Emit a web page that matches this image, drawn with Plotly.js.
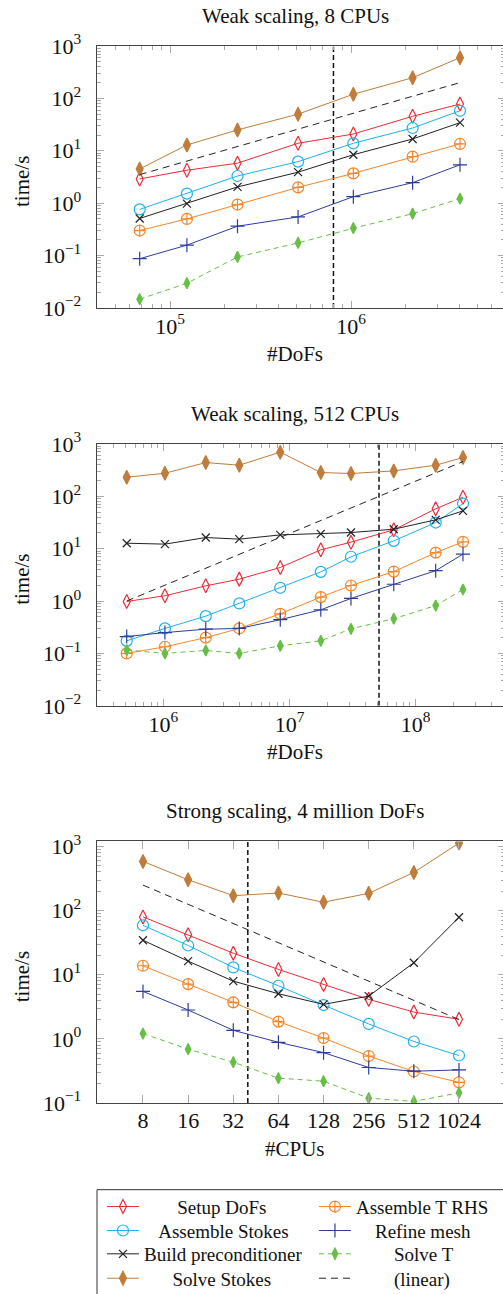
<!DOCTYPE html>
<html>
<head>
<meta charset="utf-8">
<script src="https://cdn.plot.ly/plotly-3.0.1.min.js"></script>
<style>
  html, body { margin: 0; padding: 0; overflow: hidden; background: #fff; }
  #chart { width: 505px; height: 1294px; }
</style>
</head>
<body>
<div id="chart"></div>
<script>
// ---------------- DATA ----------------
const seriesNames = ["Setup DoFs", "Assemble Stokes", "Build preconditioner", "Solve Stokes",
                     "Assemble T RHS", "Refine mesh", "Solve T"];

// Weak scaling, 8 CPUs
const weak8Dofs = [6.8e4, 1.24e5, 2.36e5, 5.1e5, 1.03e6, 2.19e6, 4.0e6];
const weak8SetupDofs = [2.9, 4.25, 5.8, 13.9, 20.9, 45.5, 78];
const weak8AssembleStokes = [0.76, 1.52, 3.3, 6.2, 13.9, 27.2, 58];
const weak8BuildPrecond = [0.51, 0.98, 2.04, 3.9, 8.4, 16.8, 34.4];
const weak8SolveStokes = [4.5, 12.9, 25, 50, 120, 248, 598];
const weak8AssembleTRhs = [0.30, 0.50, 0.94, 2.0, 3.7, 7.7, 13.5];
const weak8RefineMesh = [0.087, 0.158, 0.363, 0.546, 1.33, 2.46, 5.4];
const weak8SolveT = [0.0147, 0.0296, 0.094, 0.174, 0.332, 0.63, 1.22];
const weak8LinearX = [6.8e4, 4.0e6];
const weak8LinearY = [3.5, 200];
const weak8Marker = [8e5];

// Weak scaling, 512 CPUs
const weak512Dofs = [5.13e5, 1.03e6, 2.17e6, 4.0e6, 8.45e6, 1.77e7, 3.07e7, 6.7e7, 1.44e8, 2.37e8];
const weak512SetupDofs = [0.98, 1.26, 1.95, 2.62, 4.37, 9.5, 13.3, 22.9, 57.5, 96];
const weak512AssembleStokes = [0.174, 0.30, 0.515, 0.90, 1.79, 3.6, 7.0, 14.1, 31.5, 72.6];
const weak512BuildPrecond = [12.7, 12.2, 16.3, 15.2, 18.3, 19.1, 20.3, 23.5, 35.5, 52.6];
const weak512SolveStokes = [231, 275, 440, 392, 695, 284, 272, 305, 392, 548];
const weak512AssembleTRhs = [0.10, 0.134, 0.20, 0.30, 0.57, 1.19, 1.98, 3.65, 8.4, 13.5];
const weak512RefineMesh = [0.21, 0.25, 0.29, 0.30, 0.44, 0.68, 1.12, 2.09, 3.8, 7.85];
const weak512SolveT = [0.116, 0.10, 0.114, 0.10, 0.14, 0.174, 0.295, 0.46, 0.82, 1.66];
const weak512LinearX = [5.13e5, 2.37e8];
const weak512LinearY = [1.0, 460];
const weak512Marker = [5.12e7];

// Strong scaling, 4 million DoFs
const strongCpus = [8, 16, 32, 64, 128, 256, 512, 1024];
const strongSetupDofs = [79.8, 41.9, 21.7, 12.1, 7.06, 4.13, 2.62, 2.02];
const strongAssembleStokes = [59, 28.6, 13.0, 6.74, 3.37, 1.71, 0.91, 0.55];
const strongBuildPrecond = [34.5, 16.3, 7.94, 5.06, 3.45, 4.64, 15.4, 78.7];
const strongSolveStokes = [585, 303, 171, 188, 135, 186, 394, 1130];
const strongAssembleTRhs = [13.8, 7.14, 3.71, 1.86, 1.03, 0.54, 0.31, 0.21];
const strongRefineMesh = [5.5, 2.82, 1.36, 0.885, 0.61, 0.358, 0.313, 0.328];
const strongSolveT = [1.21, 0.69, 0.433, 0.244, 0.219, 0.119, 0.106, 0.144];
const strongLinearX = [8, 1024];
const strongLinearY = [250, 2.0];
const strongMarker = [40];

// Tick labels
const yTickVals = [0.01, 0.1, 1, 10, 100, 1000];
const yTickText = ["10<sup>\u22122</sup>", "10<sup>\u22121</sup>", "10<sup>0</sup>", "10<sup>1</sup>", "10<sup>2</sup>", "10<sup>3</sup>"];
const weak8XTickVals = [1e5, 1e6];
const weak8XTickText = ["10<sup>5</sup>", "10<sup>6</sup>"];
const weak512XTickVals = [1e6, 1e7, 1e8];
const weak512XTickText = ["10<sup>6</sup>", "10<sup>7</sup>", "10<sup>8</sup>"];
const strongXTickText = ["8", "16", "32", "64", "128", "256", "512", "1024"];

const titles = ["Weak scaling, 8 CPUs", "Weak scaling, 512 CPUs", "Strong scaling, 4 million DoFs"];
const xTitles = ["#DoFs", "#DoFs", "#CPUs"];
const yTitle = "time/s";
const linearName = "(linear)";

// ---------------- STYLE ----------------
const FONT = "Liberation Serif, Times New Roman, serif";
const styles = [
  {color: "#ee2b36", symbol: "diamond-tall-open", size: 10, dash: "solid"},
  {color: "#1db1ee", symbol: "circle-open", size: 11, dash: "solid"},
  {color: "#222222", symbol: "x-thin-open", size: 8, dash: "solid"},
  {color: "#c07c3a", symbol: "diamond-tall", size: 10, dash: "solid"},
  {color: "#f5862a", symbol: "circle-cross-open", size: 11, dash: "solid"},
  {color: "#2e3d9c", symbol: "cross-thin-open", size: 10, dash: "solid"},
  {color: "#66bf45", symbol: "diamond-tall", size: 8, dash: "5px,4px"}
];
const legendPad = [7, 3, 0, 6, 0, 4, 8];
const linearPad = 8;
const nb = n => "\u00a0".repeat(n);

const panels = [
  {x: weak8Dofs, ys: [weak8SetupDofs, weak8AssembleStokes, weak8BuildPrecond, weak8SolveStokes, weak8AssembleTRhs, weak8RefineMesh, weak8SolveT],
   lx: weak8LinearX, ly: weak8LinearY, mk: weak8Marker},
  {x: weak512Dofs, ys: [weak512SetupDofs, weak512AssembleStokes, weak512BuildPrecond, weak512SolveStokes, weak512AssembleTRhs, weak512RefineMesh, weak512SolveT],
   lx: weak512LinearX, ly: weak512LinearY, mk: weak512Marker},
  {x: strongCpus, ys: [strongSetupDofs, strongAssembleStokes, strongBuildPrecond, strongSolveStokes, strongAssembleTRhs, strongRefineMesh, strongSolveT],
   lx: strongLinearX, ly: strongLinearY, mk: strongMarker}
];

const yRanges = [[-2, 3], [-2, 3], [-1, 3.078]];
const xRanges = [[4.5967, 6.8508], [5.4746, 8.7076], [0.5964, 3.3171]];
const domains = [[0.7522, 1], [0.37577, 0.62357], [0, 0.24742]];

// legend rows: [left column, right column]; 7 = (linear)
const legendRows = [[0, 4], [1, 5], [2, 6], [3, 7]];
const legendIds = ["legend", "legend2", "legend3", "legend4"];
const rowCentersPx = [1206, 1230, 1253.3, 1277.7];

const PLOT_BOTTOM = 1103.3, PLOT_H = 1057.3;

const traces = [];
panels.forEach((p, pi) => {
  const xa = pi === 0 ? "x" : "x" + (pi + 1);
  const ya = pi === 0 ? "y" : "y" + (pi + 1);
  // vertical reference line (1e5 DoFs per CPU)
  traces.push({
    x: [p.mk[0], p.mk[0]],
    y: [Math.pow(10, yRanges[pi][0]), Math.pow(10, yRanges[pi][1])],
    xaxis: xa, yaxis: ya, mode: "lines", showlegend: false, hoverinfo: "skip",
    line: {color: "#111", width: 1.5, dash: "5px,3px"}
  });
  legendRows.forEach((row, ri) => {
    row.forEach(si => {
      if (si === 7) {
        traces.push({
          x: p.lx, y: p.ly, xaxis: xa, yaxis: ya, mode: "lines",
          name: nb(linearPad) + linearName, showlegend: pi === 0, legend: legendIds[ri],
          line: {color: "#222", width: 1, dash: "7px,5px"}
        });
      } else {
        const s = styles[si];
        traces.push({
          x: p.x, y: p.ys[si], xaxis: xa, yaxis: ya, mode: "lines+markers",
          name: nb(legendPad[si]) + seriesNames[si], showlegend: pi === 0, legend: legendIds[ri],
          line: {color: s.color, width: 1, dash: s.dash},
          marker: {symbol: s.symbol, size: s.size, color: s.color, line: {color: s.color, width: 1.2}}
        });
      }
    });
  });
});

const axisCommon = {
  type: "log", showline: true, linecolor: "#444", linewidth: 1.3, mirror: "allticks",
  ticks: "inside", ticklen: 7, tickwidth: 1, tickcolor: "#aaa", showgrid: false, zeroline: false,
  tickfont: {family: FONT, size: 22, color: "#111"}, tickmode: "array"
};
const minorLog = {ticks: "inside", ticklen: 4, tickwidth: 1, tickcolor: "#aaa", dtick: "D1", showgrid: false};

const LEG_BW = 5;
const legendBase = {
  orientation: "h", x: -0.0001, xanchor: "left", yanchor: "top",
  entrywidth: 165, entrywidthmode: "pixels", itemwidth: 32, traceorder: "normal",
  font: {family: FONT, size: 19, color: "#111"},
  bordercolor: "rgba(0,0,0,0)", borderwidth: LEG_BW, bgcolor: "rgba(0,0,0,0)"
};

const layout = {
  width: 505, height: 1294,
  margin: {l: 97, r: 0, t: 46, b: 190.7, autoexpand: false},
  paper_bgcolor: "#fff", plot_bgcolor: "#fff",
  font: {family: FONT, size: 20, color: "#111"},
  showlegend: true,
  annotations: [],
  shapes: [{
    type: "rect", xref: "paper", yref: "paper",
    x0: 0, x1: 1.1, y0: -(1190 - PLOT_BOTTOM) / PLOT_H, y1: -0.3,
    line: {color: "#333", width: 1}, fillcolor: "rgba(0,0,0,0)", layer: "below"
  }],
  hovermode: false
};
legendIds.forEach((id, ri) => {
  layout[id] = Object.assign({}, legendBase, {y: -(rowCentersPx[ri] - 23 - PLOT_BOTTOM) / PLOT_H});
});

const xTickVals = [weak8XTickVals, weak512XTickVals, strongCpus];
const xTickText = [weak8XTickText, weak512XTickText, strongXTickText];

for (let i = 0; i < 3; i++) {
  const suf = i === 0 ? "" : String(i + 1);
  const xa = Object.assign({}, axisCommon, {
    range: xRanges[i], domain: [0, 1], anchor: "y" + suf,
    tickvals: xTickVals[i], ticktext: xTickText[i], ticklen: i === 2 ? 8 : 7,
    ticklabelstandoff: i === 2 ? -3 : -2
  });
  if (i !== 2) xa.minor = minorLog;
  layout["xaxis" + suf] = xa;
  layout["yaxis" + suf] = Object.assign({}, axisCommon, {
    range: yRanges[i], domain: domains[i], anchor: "x" + suf,
    tickvals: yTickVals, ticktext: yTickText, ticklabelstandoff: 10,
    minor: minorLog
  });
  const top = domains[i][1], bot = domains[i][0];
  layout.annotations.push({
    text: titles[i], xref: "paper", yref: "paper", x: 0.4865, y: top, yshift: 30,
    xanchor: "center", yanchor: "middle", showarrow: false,
    font: {family: FONT, size: 21, color: "#111"}
  });
  layout.annotations.push({
    text: xTitles[i], xref: "paper", yref: "paper", x: 0.4865, y: bot, yshift: -46,
    xanchor: "center", yanchor: "middle", showarrow: false,
    font: {family: FONT, size: 21, color: "#111"}
  });
  layout.annotations.push({
    text: yTitle, xref: "paper", yref: "paper", x: -0.1838, y: (top + bot) / 2, yshift: -5,
    xanchor: "center", yanchor: "middle", showarrow: false, textangle: -90,
    font: {family: FONT, size: 21, color: "#111"}
  });
}

Plotly.newPlot("chart", traces, layout, {staticPlot: true, displayModeBar: false});
</script>
</body>
</html>
